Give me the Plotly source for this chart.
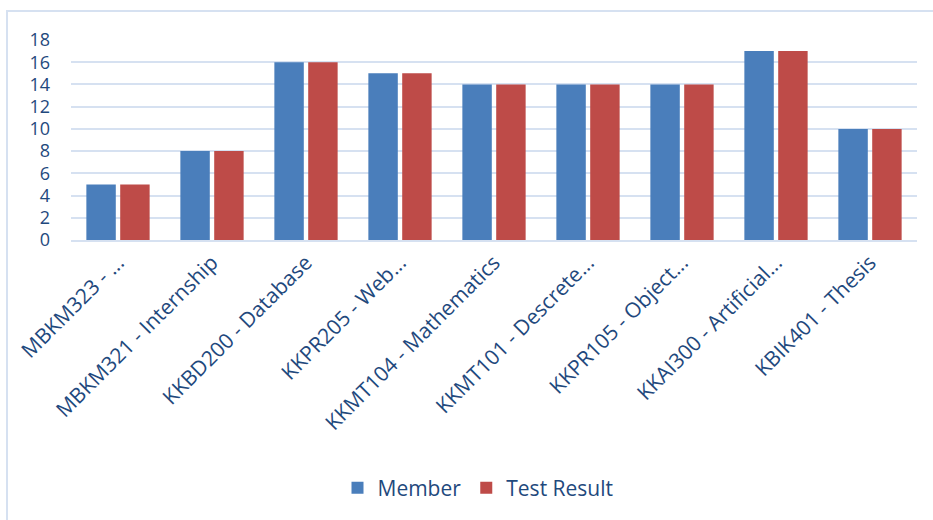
import plotly.graph_objects as go

categories = ["MBKM323 - ...", "MBKM321 - Internship", "KKBD200 - Database", "KKPR205 - Web...",
              "KKMT104 - Mathematics", "KKMT101 - Descrete...", "KKPR105 - Object...",
              "KKAI300 - Artificial...", "KBIK401 - Thesis"]
member = [5, 8, 16, 15, 14, 14, 14, 17, 10]
test_result = [5, 8, 16, 15, 14, 14, 14, 17, 10]
y_ticks = [0, 2, 4, 6, 8, 10, 12, 14, 16, 18]

txt = "#1f497d"
font_fam = "Open Sans, Liberation Sans, sans-serif"

fig = go.Figure()
fig.add_trace(go.Bar(x=categories, y=member, name="Member",
                     marker=dict(color="#4a7ebb", line=dict(width=0))))
fig.add_trace(go.Bar(x=categories, y=test_result, name="Test Result",
                     marker=dict(color="#be4b48", line=dict(width=0))))

W, H = 933, 520
l, r, t, b = 71, 16, 40, 280
pw, ph = W - l - r, H - t - b

fig.update_layout(
    width=W, height=H,
    margin=dict(l=l, r=r, t=t, b=b),
    paper_bgcolor="white", plot_bgcolor="white",
    barmode="group", bargap=0.28, bargroupgap=0.13,
    font=dict(family=font_fam, color=txt, size=18),
    legend=dict(orientation="h", x=(478 - l) / pw, xanchor="center",
                y=(t + ph - 488) / ph, yanchor="middle",
                font=dict(size=21, color=txt), itemwidth=30, tracegroupgap=0),
    xaxis=dict(tickangle=-45, showgrid=False, showline=True, linecolor="#d6e1f1",
               linewidth=2, tickfont=dict(size=21, color=txt), ticks=""),
    yaxis=dict(range=[0, 18], tickvals=y_ticks, showgrid=True, gridcolor="#d6e1f1",
               gridwidth=2, zeroline=False, tickfont=dict(size=18, color=txt),
               ticklabelstandoff=20, ticks=""),
    shapes=[dict(type="rect", xref="paper", yref="paper",
                 x0=(7 - l) / pw, x1=(W + 5 - l) / pw,
                 y0=(t + ph - (H + 5)) / ph, y1=(t + ph - 11) / ph,
                 line=dict(color="#d6e1f1", width=2), layer="below")],
)

fig.write_html("out.html")
